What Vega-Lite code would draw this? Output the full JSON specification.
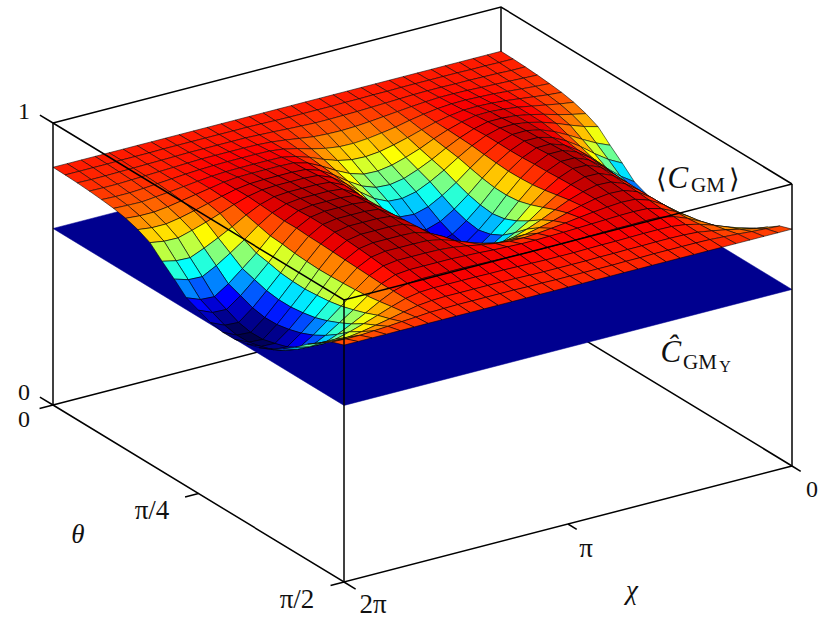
{"$schema":"https://vega.github.io/schema/vega-lite/v6.json","width":831,"height":625,"padding":0,"autosize":{"type":"fit","contains":"padding"},"background":"white","config":{"view":{"stroke":null}},
"datasets":{"surface":[
{"s":0,"t":32,"c":843},{"s":0,"t":31,"c":843},{"s":0,"t":30,"c":843},{"s":0,"t":29,"c":843},{"s":0,"t":28,"c":843},{"s":0,"t":27,"c":843},{"s":0,"t":26,"c":843},{"s":0,"t":25,"c":843},{"s":0,"t":24,"c":843},{"s":0,"t":23,"c":843},{"s":0,"t":22,"c":843},{"s":0,"t":21,"c":843},{"s":0,"t":20,"c":843},{"s":0,"t":19,"c":843},{"s":0,"t":18,"c":843},{"s":0,"t":17,"c":843},{"s":0,"t":16,"c":843},{"s":0,"t":15,"c":843},{"s":0,"t":14,"c":843},{"s":0,"t":13,"c":843},{"s":0,"t":12,"c":843},{"s":0,"t":11,"c":843},{"s":0,"t":10,"c":843},{"s":0,"t":9,"c":843},{"s":0,"t":8,"c":843},{"s":0,"t":7,"c":843},{"s":0,"t":6,"c":843},{"s":0,"t":5,"c":843},{"s":0,"t":4,"c":843},{"s":0,"t":3,"c":843},{"s":0,"t":2,"c":843},{"s":0,"t":1,"c":843},{"s":0,"t":0,"c":843},
{"s":1,"t":32,"c":842},{"s":1,"t":31,"c":842},{"s":1,"t":30,"c":843},{"s":1,"t":29,"c":843},{"s":1,"t":28,"c":844},{"s":1,"t":27,"c":844},{"s":1,"t":26,"c":844},{"s":1,"t":25,"c":844},{"s":1,"t":24,"c":844},{"s":1,"t":23,"c":843},{"s":1,"t":22,"c":843},{"s":1,"t":21,"c":842},{"s":1,"t":20,"c":842},{"s":1,"t":19,"c":841},{"s":1,"t":18,"c":841},{"s":1,"t":17,"c":841},{"s":1,"t":16,"c":841},{"s":1,"t":15,"c":842},{"s":1,"t":14,"c":843},{"s":1,"t":13,"c":844},{"s":1,"t":12,"c":844},{"s":1,"t":11,"c":844},{"s":1,"t":10,"c":844},{"s":1,"t":9,"c":844},{"s":1,"t":8,"c":844},{"s":1,"t":7,"c":844},{"s":1,"t":6,"c":843},{"s":1,"t":5,"c":843},{"s":1,"t":4,"c":843},{"s":1,"t":3,"c":842},{"s":1,"t":2,"c":842},{"s":1,"t":1,"c":842},{"s":1,"t":0,"c":842},
{"s":2,"t":32,"c":840},{"s":2,"t":31,"c":840},{"s":2,"t":30,"c":842},{"s":2,"t":29,"c":843},{"s":2,"t":28,"c":844},{"s":2,"t":27,"c":844},{"s":2,"t":26,"c":845},{"s":2,"t":25,"c":845},{"s":2,"t":24,"c":844},{"s":2,"t":23,"c":842},{"s":2,"t":22,"c":840},{"s":2,"t":21,"c":838},{"s":2,"t":20,"c":836},{"s":2,"t":19,"c":835},{"s":2,"t":18,"c":834},{"s":2,"t":17,"c":834},{"s":2,"t":16,"c":836},{"s":2,"t":15,"c":838},{"s":2,"t":14,"c":841},{"s":2,"t":13,"c":843},{"s":2,"t":12,"c":845},{"s":2,"t":11,"c":845},{"s":2,"t":10,"c":845},{"s":2,"t":9,"c":845},{"s":2,"t":8,"c":845},{"s":2,"t":7,"c":844},{"s":2,"t":6,"c":843},{"s":2,"t":5,"c":842},{"s":2,"t":4,"c":841},{"s":2,"t":3,"c":840},{"s":2,"t":2,"c":839},{"s":2,"t":1,"c":839},{"s":2,"t":0,"c":840},
{"s":3,"t":32,"c":837},{"s":3,"t":31,"c":839},{"s":3,"t":30,"c":841},{"s":3,"t":29,"c":843},{"s":3,"t":28,"c":845},{"s":3,"t":27,"c":847},{"s":3,"t":26,"c":848},{"s":3,"t":25,"c":848},{"s":3,"t":24,"c":845},{"s":3,"t":23,"c":841},{"s":3,"t":22,"c":836},{"s":3,"t":21,"c":831},{"s":3,"t":20,"c":826},{"s":3,"t":19,"c":822},{"s":3,"t":18,"c":820},{"s":3,"t":17,"c":821},{"s":3,"t":16,"c":824},{"s":3,"t":15,"c":831},{"s":3,"t":14,"c":838},{"s":3,"t":13,"c":844},{"s":3,"t":12,"c":847},{"s":3,"t":11,"c":848},{"s":3,"t":10,"c":848},{"s":3,"t":9,"c":848},{"s":3,"t":8,"c":848},{"s":3,"t":7,"c":846},{"s":3,"t":6,"c":844},{"s":3,"t":5,"c":842},{"s":3,"t":4,"c":840},{"s":3,"t":3,"c":838},{"s":3,"t":2,"c":836},{"s":3,"t":1,"c":836},{"s":3,"t":0,"c":837},
{"s":4,"t":32,"c":833},{"s":4,"t":31,"c":836},{"s":4,"t":30,"c":840},{"s":4,"t":29,"c":844},{"s":4,"t":28,"c":848},{"s":4,"t":27,"c":850},{"s":4,"t":26,"c":852},{"s":4,"t":25,"c":851},{"s":4,"t":24,"c":847},{"s":4,"t":23,"c":840},{"s":4,"t":22,"c":831},{"s":4,"t":21,"c":820},{"s":4,"t":20,"c":812},{"s":4,"t":19,"c":805},{"s":4,"t":18,"c":801},{"s":4,"t":17,"c":802},{"s":4,"t":16,"c":809},{"s":4,"t":15,"c":820},{"s":4,"t":14,"c":834},{"s":4,"t":13,"c":845},{"s":4,"t":12,"c":851},{"s":4,"t":11,"c":852},{"s":4,"t":10,"c":852},{"s":4,"t":9,"c":852},{"s":4,"t":8,"c":851},{"s":4,"t":7,"c":849},{"s":4,"t":6,"c":846},{"s":4,"t":5,"c":842},{"s":4,"t":4,"c":838},{"s":4,"t":3,"c":834},{"s":4,"t":2,"c":831},{"s":4,"t":1,"c":831},{"s":4,"t":0,"c":833},
{"s":5,"t":32,"c":828},{"s":5,"t":31,"c":832},{"s":5,"t":30,"c":838},{"s":5,"t":29,"c":844},{"s":5,"t":28,"c":850},{"s":5,"t":27,"c":854},{"s":5,"t":26,"c":856},{"s":5,"t":25,"c":855},{"s":5,"t":24,"c":848},{"s":5,"t":23,"c":838},{"s":5,"t":22,"c":824},{"s":5,"t":21,"c":809},{"s":5,"t":20,"c":796},{"s":5,"t":19,"c":785},{"s":5,"t":18,"c":780},{"s":5,"t":17,"c":782},{"s":5,"t":16,"c":792},{"s":5,"t":15,"c":809},{"s":5,"t":14,"c":829},{"s":5,"t":13,"c":845},{"s":5,"t":12,"c":855},{"s":5,"t":11,"c":856},{"s":5,"t":10,"c":856},{"s":5,"t":9,"c":856},{"s":5,"t":8,"c":855},{"s":5,"t":7,"c":852},{"s":5,"t":6,"c":847},{"s":5,"t":5,"c":841},{"s":5,"t":4,"c":835},{"s":5,"t":3,"c":830},{"s":5,"t":2,"c":825},{"s":5,"t":1,"c":826},{"s":5,"t":0,"c":828},
{"s":6,"t":32,"c":819},{"s":6,"t":31,"c":826},{"s":6,"t":30,"c":835},{"s":6,"t":29,"c":844},{"s":6,"t":28,"c":853},{"s":6,"t":27,"c":859},{"s":6,"t":26,"c":863},{"s":6,"t":25,"c":862},{"s":6,"t":24,"c":852},{"s":6,"t":23,"c":837},{"s":6,"t":22,"c":818},{"s":6,"t":21,"c":796},{"s":6,"t":20,"c":778},{"s":6,"t":19,"c":763},{"s":6,"t":18,"c":755},{"s":6,"t":17,"c":757},{"s":6,"t":16,"c":772},{"s":6,"t":15,"c":796},{"s":6,"t":14,"c":824},{"s":6,"t":13,"c":848},{"s":6,"t":12,"c":861},{"s":6,"t":11,"c":863},{"s":6,"t":10,"c":863},{"s":6,"t":9,"c":863},{"s":6,"t":8,"c":862},{"s":6,"t":7,"c":857},{"s":6,"t":6,"c":848},{"s":6,"t":5,"c":839},{"s":6,"t":4,"c":830},{"s":6,"t":3,"c":821},{"s":6,"t":2,"c":815},{"s":6,"t":1,"c":815},{"s":6,"t":0,"c":819},
{"s":7,"t":32,"c":805},{"s":7,"t":31,"c":815},{"s":7,"t":30,"c":827},{"s":7,"t":29,"c":841},{"s":7,"t":28,"c":853},{"s":7,"t":27,"c":862},{"s":7,"t":26,"c":866},{"s":7,"t":25,"c":866},{"s":7,"t":24,"c":854},{"s":7,"t":23,"c":835},{"s":7,"t":22,"c":811},{"s":7,"t":21,"c":784},{"s":7,"t":20,"c":761},{"s":7,"t":19,"c":742},{"s":7,"t":18,"c":733},{"s":7,"t":17,"c":736},{"s":7,"t":16,"c":754},{"s":7,"t":15,"c":784},{"s":7,"t":14,"c":819},{"s":7,"t":13,"c":848},{"s":7,"t":12,"c":864},{"s":7,"t":11,"c":867},{"s":7,"t":10,"c":867},{"s":7,"t":9,"c":867},{"s":7,"t":8,"c":865},{"s":7,"t":7,"c":858},{"s":7,"t":6,"c":846},{"s":7,"t":5,"c":833},{"s":7,"t":4,"c":820},{"s":7,"t":3,"c":808},{"s":7,"t":2,"c":799},{"s":7,"t":1,"c":799},{"s":7,"t":0,"c":805},
{"s":8,"t":32,"c":785},{"s":8,"t":31,"c":798},{"s":8,"t":30,"c":816},{"s":8,"t":29,"c":835},{"s":8,"t":28,"c":852},{"s":8,"t":27,"c":864},{"s":8,"t":26,"c":871},{"s":8,"t":25,"c":870},{"s":8,"t":24,"c":856},{"s":8,"t":23,"c":833},{"s":8,"t":22,"c":804},{"s":8,"t":21,"c":772},{"s":8,"t":20,"c":744},{"s":8,"t":19,"c":721},{"s":8,"t":18,"c":710},{"s":8,"t":17,"c":713},{"s":8,"t":16,"c":736},{"s":8,"t":15,"c":772},{"s":8,"t":14,"c":814},{"s":8,"t":13,"c":849},{"s":8,"t":12,"c":869},{"s":8,"t":11,"c":872},{"s":8,"t":10,"c":872},{"s":8,"t":9,"c":872},{"s":8,"t":8,"c":869},{"s":8,"t":7,"c":859},{"s":8,"t":6,"c":843},{"s":8,"t":5,"c":824},{"s":8,"t":4,"c":806},{"s":8,"t":3,"c":790},{"s":8,"t":2,"c":776},{"s":8,"t":1,"c":777},{"s":8,"t":0,"c":785},
{"s":9,"t":32,"c":745},{"s":9,"t":31,"c":766},{"s":9,"t":30,"c":792},{"s":9,"t":29,"c":820},{"s":9,"t":28,"c":845},{"s":9,"t":27,"c":864},{"s":9,"t":26,"c":874},{"s":9,"t":25,"c":873},{"s":9,"t":24,"c":856},{"s":9,"t":23,"c":828},{"s":9,"t":22,"c":793},{"s":9,"t":21,"c":754},{"s":9,"t":20,"c":721},{"s":9,"t":19,"c":694},{"s":9,"t":18,"c":680},{"s":9,"t":17,"c":684},{"s":9,"t":16,"c":711},{"s":9,"t":15,"c":754},{"s":9,"t":14,"c":805},{"s":9,"t":13,"c":848},{"s":9,"t":12,"c":871},{"s":9,"t":11,"c":875},{"s":9,"t":10,"c":875},{"s":9,"t":9,"c":875},{"s":9,"t":8,"c":871},{"s":9,"t":7,"c":856},{"s":9,"t":6,"c":832},{"s":9,"t":5,"c":803},{"s":9,"t":4,"c":777},{"s":9,"t":3,"c":753},{"s":9,"t":2,"c":732},{"s":9,"t":1,"c":734},{"s":9,"t":0,"c":745},
{"s":10,"t":32,"c":708},{"s":10,"t":31,"c":734},{"s":10,"t":30,"c":768},{"s":10,"t":29,"c":806},{"s":10,"t":28,"c":838},{"s":10,"t":27,"c":863},{"s":10,"t":26,"c":876},{"s":10,"t":25,"c":876},{"s":10,"t":24,"c":855},{"s":10,"t":23,"c":824},{"s":10,"t":22,"c":783},{"s":10,"t":21,"c":738},{"s":10,"t":20,"c":699},{"s":10,"t":19,"c":668},{"s":10,"t":18,"c":652},{"s":10,"t":17,"c":656},{"s":10,"t":16,"c":688},{"s":10,"t":15,"c":738},{"s":10,"t":14,"c":797},{"s":10,"t":13,"c":846},{"s":10,"t":12,"c":873},{"s":10,"t":11,"c":878},{"s":10,"t":10,"c":878},{"s":10,"t":9,"c":878},{"s":10,"t":8,"c":872},{"s":10,"t":7,"c":853},{"s":10,"t":6,"c":821},{"s":10,"t":5,"c":783},{"s":10,"t":4,"c":749},{"s":10,"t":3,"c":717},{"s":10,"t":2,"c":691},{"s":10,"t":1,"c":693},{"s":10,"t":0,"c":708},
{"s":11,"t":32,"c":668},{"s":11,"t":31,"c":701},{"s":11,"t":30,"c":743},{"s":11,"t":29,"c":791},{"s":11,"t":28,"c":831},{"s":11,"t":27,"c":862},{"s":11,"t":26,"c":879},{"s":11,"t":25,"c":878},{"s":11,"t":24,"c":856},{"s":11,"t":23,"c":821},{"s":11,"t":22,"c":776},{"s":11,"t":21,"c":727},{"s":11,"t":20,"c":684},{"s":11,"t":19,"c":649},{"s":11,"t":18,"c":632},{"s":11,"t":17,"c":637},{"s":11,"t":16,"c":672},{"s":11,"t":15,"c":727},{"s":11,"t":14,"c":791},{"s":11,"t":13,"c":846},{"s":11,"t":12,"c":876},{"s":11,"t":11,"c":881},{"s":11,"t":10,"c":881},{"s":11,"t":9,"c":881},{"s":11,"t":8,"c":874},{"s":11,"t":7,"c":850},{"s":11,"t":6,"c":810},{"s":11,"t":5,"c":762},{"s":11,"t":4,"c":720},{"s":11,"t":3,"c":679},{"s":11,"t":2,"c":646},{"s":11,"t":1,"c":649},{"s":11,"t":0,"c":668},
{"s":12,"t":32,"c":650},{"s":12,"t":31,"c":687},{"s":12,"t":30,"c":734},{"s":12,"t":29,"c":786},{"s":12,"t":28,"c":830},{"s":12,"t":27,"c":864},{"s":12,"t":26,"c":882},{"s":12,"t":25,"c":882},{"s":12,"t":24,"c":859},{"s":12,"t":23,"c":822},{"s":12,"t":22,"c":775},{"s":12,"t":21,"c":722},{"s":12,"t":20,"c":677},{"s":12,"t":19,"c":640},{"s":12,"t":18,"c":622},{"s":12,"t":17,"c":627},{"s":12,"t":16,"c":664},{"s":12,"t":15,"c":722},{"s":12,"t":14,"c":790},{"s":12,"t":13,"c":848},{"s":12,"t":12,"c":880},{"s":12,"t":11,"c":885},{"s":12,"t":10,"c":885},{"s":12,"t":9,"c":885},{"s":12,"t":8,"c":877},{"s":12,"t":7,"c":851},{"s":12,"t":6,"c":807},{"s":12,"t":5,"c":754},{"s":12,"t":4,"c":707},{"s":12,"t":3,"c":663},{"s":12,"t":2,"c":627},{"s":12,"t":1,"c":629},{"s":12,"t":0,"c":650},
{"s":13,"t":32,"c":632},{"s":13,"t":31,"c":671},{"s":13,"t":30,"c":722},{"s":13,"t":29,"c":778},{"s":13,"t":28,"c":826},{"s":13,"t":27,"c":862},{"s":13,"t":26,"c":882},{"s":13,"t":25,"c":882},{"s":13,"t":24,"c":860},{"s":13,"t":23,"c":825},{"s":13,"t":22,"c":780},{"s":13,"t":21,"c":730},{"s":13,"t":20,"c":688},{"s":13,"t":19,"c":652},{"s":13,"t":18,"c":635},{"s":13,"t":17,"c":640},{"s":13,"t":16,"c":675},{"s":13,"t":15,"c":730},{"s":13,"t":14,"c":795},{"s":13,"t":13,"c":850},{"s":13,"t":12,"c":880},{"s":13,"t":11,"c":885},{"s":13,"t":10,"c":885},{"s":13,"t":9,"c":885},{"s":13,"t":8,"c":877},{"s":13,"t":7,"c":848},{"s":13,"t":6,"c":801},{"s":13,"t":5,"c":744},{"s":13,"t":4,"c":694},{"s":13,"t":3,"c":646},{"s":13,"t":2,"c":607},{"s":13,"t":1,"c":610},{"s":13,"t":0,"c":632},
{"s":14,"t":32,"c":624},{"s":14,"t":31,"c":665},{"s":14,"t":30,"c":717},{"s":14,"t":29,"c":775},{"s":14,"t":28,"c":824},{"s":14,"t":27,"c":862},{"s":14,"t":26,"c":882},{"s":14,"t":25,"c":883},{"s":14,"t":24,"c":863},{"s":14,"t":23,"c":832},{"s":14,"t":22,"c":793},{"s":14,"t":21,"c":749},{"s":14,"t":20,"c":711},{"s":14,"t":19,"c":680},{"s":14,"t":18,"c":665},{"s":14,"t":17,"c":669},{"s":14,"t":16,"c":700},{"s":14,"t":15,"c":749},{"s":14,"t":14,"c":806},{"s":14,"t":13,"c":854},{"s":14,"t":12,"c":881},{"s":14,"t":11,"c":885},{"s":14,"t":10,"c":885},{"s":14,"t":9,"c":885},{"s":14,"t":8,"c":876},{"s":14,"t":7,"c":847},{"s":14,"t":6,"c":798},{"s":14,"t":5,"c":740},{"s":14,"t":4,"c":688},{"s":14,"t":3,"c":638},{"s":14,"t":2,"c":598},{"s":14,"t":1,"c":601},{"s":14,"t":0,"c":624},
{"s":15,"t":32,"c":625},{"s":15,"t":31,"c":665},{"s":15,"t":30,"c":716},{"s":15,"t":29,"c":773},{"s":15,"t":28,"c":822},{"s":15,"t":27,"c":859},{"s":15,"t":26,"c":879},{"s":15,"t":25,"c":880},{"s":15,"t":24,"c":865},{"s":15,"t":23,"c":841},{"s":15,"t":22,"c":810},{"s":15,"t":21,"c":775},{"s":15,"t":20,"c":746},{"s":15,"t":19,"c":722},{"s":15,"t":18,"c":710},{"s":15,"t":17,"c":713},{"s":15,"t":16,"c":738},{"s":15,"t":15,"c":775},{"s":15,"t":14,"c":820},{"s":15,"t":13,"c":858},{"s":15,"t":12,"c":879},{"s":15,"t":11,"c":882},{"s":15,"t":10,"c":882},{"s":15,"t":9,"c":882},{"s":15,"t":8,"c":873},{"s":15,"t":7,"c":845},{"s":15,"t":6,"c":796},{"s":15,"t":5,"c":739},{"s":15,"t":4,"c":688},{"s":15,"t":3,"c":639},{"s":15,"t":2,"c":599},{"s":15,"t":1,"c":602},{"s":15,"t":0,"c":625},
{"s":16,"t":32,"c":635},{"s":16,"t":31,"c":673},{"s":16,"t":30,"c":721},{"s":16,"t":29,"c":775},{"s":16,"t":28,"c":821},{"s":16,"t":27,"c":856},{"s":16,"t":26,"c":875},{"s":16,"t":25,"c":877},{"s":16,"t":24,"c":866},{"s":16,"t":23,"c":850},{"s":16,"t":22,"c":828},{"s":16,"t":21,"c":805},{"s":16,"t":20,"c":785},{"s":16,"t":19,"c":768},{"s":16,"t":18,"c":760},{"s":16,"t":17,"c":762},{"s":16,"t":16,"c":779},{"s":16,"t":15,"c":805},{"s":16,"t":14,"c":836},{"s":16,"t":13,"c":861},{"s":16,"t":12,"c":876},{"s":16,"t":11,"c":878},{"s":16,"t":10,"c":878},{"s":16,"t":9,"c":878},{"s":16,"t":8,"c":870},{"s":16,"t":7,"c":843},{"s":16,"t":6,"c":797},{"s":16,"t":5,"c":743},{"s":16,"t":4,"c":694},{"s":16,"t":3,"c":648},{"s":16,"t":2,"c":611},{"s":16,"t":1,"c":613},{"s":16,"t":0,"c":635},
{"s":17,"t":32,"c":648},{"s":17,"t":31,"c":683},{"s":17,"t":30,"c":728},{"s":17,"t":29,"c":779},{"s":17,"t":28,"c":821},{"s":17,"t":27,"c":854},{"s":17,"t":26,"c":871},{"s":17,"t":25,"c":873},{"s":17,"t":24,"c":867},{"s":17,"t":23,"c":856},{"s":17,"t":22,"c":843},{"s":17,"t":21,"c":828},{"s":17,"t":20,"c":816},{"s":17,"t":19,"c":805},{"s":17,"t":18,"c":800},{"s":17,"t":17,"c":801},{"s":17,"t":16,"c":812},{"s":17,"t":15,"c":828},{"s":17,"t":14,"c":847},{"s":17,"t":13,"c":864},{"s":17,"t":12,"c":873},{"s":17,"t":11,"c":874},{"s":17,"t":10,"c":874},{"s":17,"t":9,"c":874},{"s":17,"t":8,"c":866},{"s":17,"t":7,"c":841},{"s":17,"t":6,"c":799},{"s":17,"t":5,"c":748},{"s":17,"t":4,"c":703},{"s":17,"t":3,"c":661},{"s":17,"t":2,"c":625},{"s":17,"t":1,"c":628},{"s":17,"t":0,"c":648},
{"s":18,"t":32,"c":669},{"s":18,"t":31,"c":700},{"s":18,"t":30,"c":740},{"s":18,"t":29,"c":784},{"s":18,"t":28,"c":822},{"s":18,"t":27,"c":850},{"s":18,"t":26,"c":866},{"s":18,"t":25,"c":868},{"s":18,"t":24,"c":864},{"s":18,"t":23,"c":859},{"s":18,"t":22,"c":853},{"s":18,"t":21,"c":846},{"s":18,"t":20,"c":840},{"s":18,"t":19,"c":835},{"s":18,"t":18,"c":832},{"s":18,"t":17,"c":833},{"s":18,"t":16,"c":838},{"s":18,"t":15,"c":846},{"s":18,"t":14,"c":855},{"s":18,"t":13,"c":863},{"s":18,"t":12,"c":867},{"s":18,"t":11,"c":868},{"s":18,"t":10,"c":868},{"s":18,"t":9,"c":868},{"s":18,"t":8,"c":861},{"s":18,"t":7,"c":839},{"s":18,"t":6,"c":802},{"s":18,"t":5,"c":757},{"s":18,"t":4,"c":718},{"s":18,"t":3,"c":680},{"s":18,"t":2,"c":649},{"s":18,"t":1,"c":651},{"s":18,"t":0,"c":669},
{"s":19,"t":32,"c":696},{"s":19,"t":31,"c":722},{"s":19,"t":30,"c":755},{"s":19,"t":29,"c":792},{"s":19,"t":28,"c":823},{"s":19,"t":27,"c":846},{"s":19,"t":26,"c":859},{"s":19,"t":25,"c":861},{"s":19,"t":24,"c":860},{"s":19,"t":23,"c":858},{"s":19,"t":22,"c":856},{"s":19,"t":21,"c":854},{"s":19,"t":20,"c":852},{"s":19,"t":19,"c":851},{"s":19,"t":18,"c":850},{"s":19,"t":17,"c":850},{"s":19,"t":16,"c":852},{"s":19,"t":15,"c":854},{"s":19,"t":14,"c":857},{"s":19,"t":13,"c":859},{"s":19,"t":12,"c":861},{"s":19,"t":11,"c":861},{"s":19,"t":10,"c":861},{"s":19,"t":9,"c":861},{"s":19,"t":8,"c":856},{"s":19,"t":7,"c":837},{"s":19,"t":6,"c":806},{"s":19,"t":5,"c":770},{"s":19,"t":4,"c":737},{"s":19,"t":3,"c":705},{"s":19,"t":2,"c":680},{"s":19,"t":1,"c":682},{"s":19,"t":0,"c":696},
{"s":20,"t":32,"c":728},{"s":20,"t":31,"c":748},{"s":20,"t":30,"c":773},{"s":20,"t":29,"c":801},{"s":20,"t":28,"c":825},{"s":20,"t":27,"c":844},{"s":20,"t":26,"c":854},{"s":20,"t":25,"c":855},{"s":20,"t":24,"c":854},{"s":20,"t":23,"c":854},{"s":20,"t":22,"c":853},{"s":20,"t":21,"c":852},{"s":20,"t":20,"c":851},{"s":20,"t":19,"c":850},{"s":20,"t":18,"c":850},{"s":20,"t":17,"c":850},{"s":20,"t":16,"c":851},{"s":20,"t":15,"c":852},{"s":20,"t":14,"c":853},{"s":20,"t":13,"c":854},{"s":20,"t":12,"c":855},{"s":20,"t":11,"c":855},{"s":20,"t":10,"c":855},{"s":20,"t":9,"c":855},{"s":20,"t":8,"c":851},{"s":20,"t":7,"c":837},{"s":20,"t":6,"c":813},{"s":20,"t":5,"c":785},{"s":20,"t":4,"c":759},{"s":20,"t":3,"c":735},{"s":20,"t":2,"c":715},{"s":20,"t":1,"c":717},{"s":20,"t":0,"c":728},
{"s":21,"t":32,"c":765},{"s":21,"t":31,"c":778},{"s":21,"t":30,"c":795},{"s":21,"t":29,"c":814},{"s":21,"t":28,"c":830},{"s":21,"t":27,"c":842},{"s":21,"t":26,"c":848},{"s":21,"t":25,"c":849},{"s":21,"t":24,"c":849},{"s":21,"t":23,"c":848},{"s":21,"t":22,"c":847},{"s":21,"t":21,"c":847},{"s":21,"t":20,"c":846},{"s":21,"t":19,"c":845},{"s":21,"t":18,"c":845},{"s":21,"t":17,"c":845},{"s":21,"t":16,"c":846},{"s":21,"t":15,"c":847},{"s":21,"t":14,"c":848},{"s":21,"t":13,"c":848},{"s":21,"t":12,"c":849},{"s":21,"t":11,"c":849},{"s":21,"t":10,"c":849},{"s":21,"t":9,"c":849},{"s":21,"t":8,"c":846},{"s":21,"t":7,"c":837},{"s":21,"t":6,"c":821},{"s":21,"t":5,"c":803},{"s":21,"t":4,"c":786},{"s":21,"t":3,"c":770},{"s":21,"t":2,"c":757},{"s":21,"t":1,"c":758},{"s":21,"t":0,"c":765},
{"s":22,"t":32,"c":795},{"s":22,"t":31,"c":802},{"s":22,"t":30,"c":813},{"s":22,"t":29,"c":824},{"s":22,"t":28,"c":833},{"s":22,"t":27,"c":841},{"s":22,"t":26,"c":844},{"s":22,"t":25,"c":845},{"s":22,"t":24,"c":845},{"s":22,"t":23,"c":844},{"s":22,"t":22,"c":844},{"s":22,"t":21,"c":843},{"s":22,"t":20,"c":843},{"s":22,"t":19,"c":842},{"s":22,"t":18,"c":842},{"s":22,"t":17,"c":842},{"s":22,"t":16,"c":842},{"s":22,"t":15,"c":843},{"s":22,"t":14,"c":844},{"s":22,"t":13,"c":845},{"s":22,"t":12,"c":845},{"s":22,"t":11,"c":845},{"s":22,"t":10,"c":845},{"s":22,"t":9,"c":845},{"s":22,"t":8,"c":843},{"s":22,"t":7,"c":838},{"s":22,"t":6,"c":828},{"s":22,"t":5,"c":817},{"s":22,"t":4,"c":807},{"s":22,"t":3,"c":797},{"s":22,"t":2,"c":790},{"s":22,"t":1,"c":790},{"s":22,"t":0,"c":795},
{"s":23,"t":32,"c":825},{"s":23,"t":31,"c":828},{"s":23,"t":30,"c":831},{"s":23,"t":29,"c":835},{"s":23,"t":28,"c":838},{"s":23,"t":27,"c":841},{"s":23,"t":26,"c":842},{"s":23,"t":25,"c":842},{"s":23,"t":24,"c":842},{"s":23,"t":23,"c":842},{"s":23,"t":22,"c":841},{"s":23,"t":21,"c":841},{"s":23,"t":20,"c":840},{"s":23,"t":19,"c":840},{"s":23,"t":18,"c":840},{"s":23,"t":17,"c":840},{"s":23,"t":16,"c":840},{"s":23,"t":15,"c":841},{"s":23,"t":14,"c":841},{"s":23,"t":13,"c":842},{"s":23,"t":12,"c":842},{"s":23,"t":11,"c":842},{"s":23,"t":10,"c":842},{"s":23,"t":9,"c":842},{"s":23,"t":8,"c":841},{"s":23,"t":7,"c":840},{"s":23,"t":6,"c":836},{"s":23,"t":5,"c":833},{"s":23,"t":4,"c":829},{"s":23,"t":3,"c":826},{"s":23,"t":2,"c":823},{"s":23,"t":1,"c":823},{"s":23,"t":0,"c":825},
{"s":24,"t":32,"c":840},{"s":24,"t":31,"c":840},{"s":24,"t":30,"c":840},{"s":24,"t":29,"c":840},{"s":24,"t":28,"c":840},{"s":24,"t":27,"c":840},{"s":24,"t":26,"c":840},{"s":24,"t":25,"c":840},{"s":24,"t":24,"c":840},{"s":24,"t":23,"c":840},{"s":24,"t":22,"c":840},{"s":24,"t":21,"c":840},{"s":24,"t":20,"c":840},{"s":24,"t":19,"c":840},{"s":24,"t":18,"c":840},{"s":24,"t":17,"c":840},{"s":24,"t":16,"c":840},{"s":24,"t":15,"c":840},{"s":24,"t":14,"c":840},{"s":24,"t":13,"c":840},{"s":24,"t":12,"c":840},{"s":24,"t":11,"c":840},{"s":24,"t":10,"c":840},{"s":24,"t":9,"c":840},{"s":24,"t":8,"c":840},{"s":24,"t":7,"c":840},{"s":24,"t":6,"c":840},{"s":24,"t":5,"c":840},{"s":24,"t":4,"c":840},{"s":24,"t":3,"c":840},{"s":24,"t":2,"c":840},{"s":24,"t":1,"c":840},{"s":24,"t":0,"c":840}
],
"edges":[{"g":"back","e":"a","k":0,"s":0,"t":0,"c":1},{"g":"back","e":"a","k":1,"s":0,"t":1,"c":1},{"g":"back","e":"a","k":2,"s":1,"t":1,"c":1},{"g":"back","e":"b","k":0,"s":0,"t":1,"c":1},{"g":"back","e":"b","k":1,"s":0,"t":1,"c":0},{"g":"back","e":"c","k":0,"s":0,"t":0,"c":0},{"g":"back","e":"c","k":1,"s":0,"t":1,"c":0},{"g":"back","e":"c","k":2,"s":1,"t":1,"c":0},
{"g":"front","e":"d","k":0,"s":0,"t":0,"c":1},{"g":"front","e":"d","k":1,"s":1,"t":0,"c":1},{"g":"front","e":"d","k":2,"s":1,"t":1,"c":1},{"g":"front","e":"f","k":0,"s":0,"t":0,"c":0},{"g":"front","e":"f","k":1,"s":1,"t":0,"c":0},{"g":"front","e":"f","k":2,"s":1,"t":1,"c":0},{"g":"front","e":"h","k":0,"s":1,"t":0,"c":0},{"g":"front","e":"h","k":1,"s":1,"t":0,"c":1},{"g":"front","e":"i","k":0,"s":0,"t":0,"c":0},{"g":"front","e":"i","k":1,"s":0,"t":0,"c":1},{"g":"front","e":"j","k":0,"s":1,"t":1,"c":0},{"g":"front","e":"j","k":1,"s":1,"t":1,"c":1},
{"g":"front","e":"t1","k":0,"s":-0.045,"t":0,"c":1},{"g":"front","e":"t1","k":1,"s":0,"t":0,"c":1},{"g":"front","e":"t2","k":0,"s":-0.045,"t":0,"c":0},{"g":"front","e":"t2","k":1,"s":0,"t":0,"c":0},{"g":"front","e":"t3","k":0,"s":0,"t":-0.03,"c":0},{"g":"front","e":"t3","k":1,"s":0,"t":0,"c":0},{"g":"front","e":"t4","k":0,"s":0.5,"t":-0.03,"c":0},{"g":"front","e":"t4","k":1,"s":0.5,"t":0,"c":0},{"g":"front","e":"t5","k":0,"s":1,"t":-0.03,"c":0},{"g":"front","e":"t5","k":1,"s":1,"t":0,"c":0},{"g":"front","e":"t6","k":0,"s":1,"t":0,"c":0},{"g":"front","e":"t6","k":1,"s":1.04,"t":0,"c":0},{"g":"front","e":"t7","k":0,"s":1,"t":0.5,"c":0},{"g":"front","e":"t7","k":1,"s":1.03,"t":0.5,"c":0},{"g":"front","e":"t8","k":0,"s":1,"t":1,"c":0},{"g":"front","e":"t8","k":1,"s":1.03,"t":1,"c":0}],
"plane":[{"k":0,"s":0,"t":0,"c":0.626},{"k":1,"s":1,"t":0,"c":0.626},{"k":2,"s":1,"t":1,"c":0.626},{"k":3,"s":0,"t":1,"c":0.626},{"k":4,"s":0,"t":0,"c":0.626}],
"labels":[{"g":"num","l":"1","s":0,"t":-0.0647,"c":1.064},{"g":"num","l":"0","s":0,"t":-0.0647,"c":0.068},{"g":"num","l":"0","s":0,"t":-0.0647,"c":-0.025},{"g":"tick","l":"π/4","s":0.5,"t":-0.1038,"c":-0.0195},{"g":"tick","l":"π/2","s":1,"t":-0.1049,"c":-0.0206},{"g":"tick","l":"2π","s":1.0997,"t":0,"c":-0.0191},{"g":"tick","l":"π","s":1.062,"t":0.5,"c":-0.0496},{"g":"num","l":"0","s":1.0687,"t":1,"c":-0.0418},{"g":"tick","l":"⟨","s":0.55,"t":1,"c":0.7316},{"g":"tick","l":"⟩","s":0.804,"t":1,"c":0.8911},{"g":"var","l":"θ","s":0.5,"t":-0.269,"c":-0.0365},{"g":"var","l":"χ","s":1.22,"t":0.5,"c":-0.0996},{"g":"big","l":"C","s":0.608,"t":1,"c":0.7716},{"g":"big","l":"Ĉ","s":0.584,"t":1,"c":0.1397},{"g":"sub","l":"GM","s":0.711,"t":1,"c":0.8117},{"g":"sub","l":"GM","s":0.684,"t":1,"c":0.1667},{"g":"sub2","l":"Υ","s":0.77,"t":1,"c":0.2067}]},
"layer":[
{"data":{"name":"edges"},"transform":[{"filter":"datum.g=='back'"},{"calculate":"53+291*datum.s+448*datum.t","as":"px"},{"calculate":"405+177*datum.s-116*datum.t-282*datum.c","as":"py"}],"mark":{"type":"line","stroke":"black","strokeWidth":1.5},"encoding":{"x":{"field":"px","type":"quantitative","scale":{"domain":[0,831],"nice":false,"zero":false},"axis":null},"y":{"field":"py","type":"quantitative","scale":{"domain":[625,0],"nice":false,"zero":false},"axis":null},"detail":{"field":"e"},"order":{"field":"k"}}},
{"data":{"name":"plane"},"transform":[{"calculate":"53+291*datum.s+448*datum.t","as":"px"},{"calculate":"405+177*datum.s-116*datum.t-282*datum.c","as":"py"}],"mark":{"type":"line","filled":true,"fill":"#00008f","stroke":"#00008f","strokeWidth":0.5},"encoding":{"x":{"field":"px","type":"quantitative"},"y":{"field":"py","type":"quantitative"},"order":{"field":"k"}}},
{"data":{"name":"surface"},"transform":[{"calculate":"[0,1,2,3,4]","as":"k"},{"flatten":["k"]},{"calculate":"datum.s-(datum.k==1||datum.k==2?1:0)","as":"ci"},{"calculate":"datum.t-(datum.k==2||datum.k==3?1:0)","as":"cj"},{"filter":"datum.ci>=0&&datum.cj>=0&&datum.ci<24&&datum.cj<32"},{"calculate":"datum.ci*100+datum.cj","as":"cell"},{"joinaggregate":[{"op":"mean","field":"c","as":"m"}],"groupby":["cell"]},{"calculate":"53+12.125*datum.s+14*datum.t","as":"px"},{"calculate":"405+7.375*datum.s-3.625*datum.t-0.282*datum.c","as":"py"}],"mark":{"type":"line","filled":true,"stroke":"black","strokeWidth":0.7,"strokeOpacity":0.8,"strokeJoin":"bevel"},"encoding":{"x":{"field":"px","type":"quantitative"},"y":{"field":"py","type":"quantitative"},"detail":{"field":"cell"},"order":{"field":"k"},"fill":{"field":"m","type":"quantitative","legend":null,"scale":{"domain":[620,652,716,782,850,895],"range":["#00008f","#0000ff","#00ffff","#ffff00","#ff0000","#800000"],"interpolate":"rgb"}}}},
{"data":{"name":"edges"},"transform":[{"filter":"datum.g=='front'"},{"calculate":"53+291*datum.s+448*datum.t","as":"px"},{"calculate":"405+177*datum.s-116*datum.t-282*datum.c","as":"py"}],"mark":{"type":"line","stroke":"black","strokeWidth":1.5},"encoding":{"x":{"field":"px","type":"quantitative"},"y":{"field":"py","type":"quantitative"},"detail":{"field":"e"},"order":{"field":"k"}}},
{"data":{"name":"labels"},"transform":[{"filter":"datum.g=='num'"},{"calculate":"53+291*datum.s+448*datum.t","as":"px"},{"calculate":"405+177*datum.s-116*datum.t-282*datum.c","as":"py"}],"mark":{"type":"text","font":"Liberation Serif","fontSize":24,"align":"center","baseline":"middle","color":"#111"},"encoding":{"x":{"field":"px","type":"quantitative"},"y":{"field":"py","type":"quantitative"},"text":{"field":"l"}}},
{"data":{"name":"labels"},"transform":[{"filter":"datum.g=='tick'"},{"calculate":"53+291*datum.s+448*datum.t","as":"px"},{"calculate":"405+177*datum.s-116*datum.t-282*datum.c","as":"py"}],"mark":{"type":"text","font":"Liberation Serif","fontSize":27,"align":"center","baseline":"middle","color":"#111"},"encoding":{"x":{"field":"px","type":"quantitative"},"y":{"field":"py","type":"quantitative"},"text":{"field":"l"}}},
{"data":{"name":"labels"},"transform":[{"filter":"datum.g=='var'"},{"calculate":"53+291*datum.s+448*datum.t","as":"px"},{"calculate":"405+177*datum.s-116*datum.t-282*datum.c","as":"py"}],"mark":{"type":"text","font":"Liberation Serif","fontStyle":"italic","fontSize":27,"align":"center","baseline":"middle","color":"#111"},"encoding":{"x":{"field":"px","type":"quantitative"},"y":{"field":"py","type":"quantitative"},"text":{"field":"l"}}},
{"data":{"name":"labels"},"transform":[{"filter":"datum.g=='big'"},{"calculate":"53+291*datum.s+448*datum.t","as":"px"},{"calculate":"405+177*datum.s-116*datum.t-282*datum.c","as":"py"}],"mark":{"type":"text","font":"Liberation Serif","fontStyle":"italic","fontSize":31,"align":"center","baseline":"middle","color":"#111"},"encoding":{"x":{"field":"px","type":"quantitative"},"y":{"field":"py","type":"quantitative"},"text":{"field":"l"}}},
{"data":{"name":"labels"},"transform":[{"filter":"datum.g=='sub'"},{"calculate":"53+291*datum.s+448*datum.t","as":"px"},{"calculate":"405+177*datum.s-116*datum.t-282*datum.c","as":"py"}],"mark":{"type":"text","font":"Liberation Serif","fontSize":21,"align":"center","baseline":"middle","color":"#111"},"encoding":{"x":{"field":"px","type":"quantitative"},"y":{"field":"py","type":"quantitative"},"text":{"field":"l"}}},
{"data":{"name":"labels"},"transform":[{"filter":"datum.g=='sub2'"},{"calculate":"53+291*datum.s+448*datum.t","as":"px"},{"calculate":"405+177*datum.s-116*datum.t-282*datum.c","as":"py"}],"mark":{"type":"text","font":"Liberation Serif","fontSize":16,"align":"center","baseline":"middle","color":"#111"},"encoding":{"x":{"field":"px","type":"quantitative"},"y":{"field":"py","type":"quantitative"},"text":{"field":"l"}}}
]}
